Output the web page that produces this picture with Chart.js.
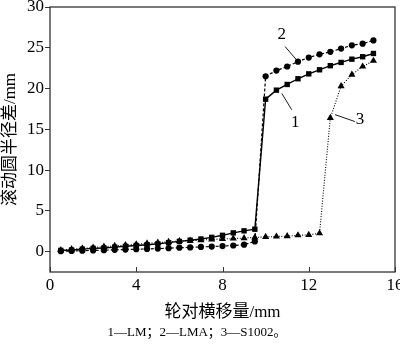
<!DOCTYPE html>
<html>
<head>
<meta charset="utf-8">
<script src="https://cdn.jsdelivr.net/npm/chart.js@4/dist/chart.umd.min.js"></script>
<style>
  html, body { margin: 0; padding: 0; background: #fff; }
  #wrap { width: 400px; height: 345px; }
</style>
</head>
<body>
<div id="wrap"><canvas id="chart"></canvas></div>
<script>
// 轮对横移量 (mm)
const xValues = [0.5, 1, 1.5, 2, 2.5, 3, 3.5, 4, 4.5, 5, 5.5, 6, 6.5, 7, 7.5, 8, 8.5, 9, 9.5,
                 10, 10.5, 11, 11.5, 12, 12.5, 13, 13.5, 14, 14.5, 15];
// 1 — LM
const lmValues = [0.15, 0.2, 0.3, 0.4, 0.45, 0.55, 0.65, 0.75, 0.85, 0.95, 1.1, 1.25, 1.4, 1.55, 1.75, 2.0, 2.3, 2.55, 2.75,
                  18.7, 19.8, 20.5, 21.2, 21.8, 22.3, 22.8, 23.2, 23.6, 23.9, 24.3];
// 2 — LMA
const lmaValues = [0.05, 0.08, 0.12, 0.15, 0.18, 0.22, 0.25, 0.3, 0.33, 0.37, 0.42, 0.48, 0.52, 0.58, 0.62, 0.68, 0.75, 0.85, 1.25,
                   21.5, 22.2, 22.7, 23.3, 23.8, 24.2, 24.5, 24.9, 25.3, 25.5, 25.9];
// 3 — S1002
const s1002Values = [0.2, 0.3, 0.4, 0.5, 0.6, 0.7, 0.8, 0.9, 1.0, 1.1, 1.2, 1.3, 1.35, 1.4, 1.5, 1.55, 1.6, 1.65, 1.75,
                     1.8, 1.85, 1.9, 2.0, 2.05, 2.25, 16.4, 20.3, 21.7, 22.7, 23.4];

const xTicks = [0, 4, 8, 12, 16];
const yTicks = [0, 5, 10, 15, 20, 25, 30];

// curve labels: text, text position, leader line (data units)
const curveLabels = [
  { text: '2', at: [10.75, 26.6], from: [10.9, 25.15], to: [11.44, 23.5] },
  { text: '1', at: [11.37, 15.8], from: [10.75, 19.4], to: [11.21, 17.4] },
  { text: '3', at: [14.38, 16.2], from: [13.22, 16.8], to: [14.14, 15.95] },
];

const serif = "'Liberation Serif', 'Noto Sans CJK SC', serif";
Chart.defaults.font.family = serif;
Chart.defaults.color = '#000';

const toPoints = ys => ys.map((y, i) => ({ x: xValues[i], y: y }));

const framePlugin = {
  id: 'frame',
  afterDraw(chart) {
    const { ctx, chartArea: a, scales } = chart;
    const x = scales.x, y = scales.y;
    ctx.save();
    ctx.strokeStyle = '#333';
    ctx.lineWidth = 1.3;
    ctx.strokeRect(a.left, a.top, a.right - a.left, a.bottom - a.top);

    // inward ticks on x axis
    ctx.lineWidth = 1;
    ctx.beginPath();
    xTicks.forEach(v => {
      const px = Math.round(x.getPixelForValue(v)) + 0.5;
      ctx.moveTo(px, a.bottom);
      ctx.lineTo(px, a.bottom - 5);
    });
    ctx.stroke();

    // curve number labels
    ctx.fillStyle = '#000';
    ctx.strokeStyle = '#000';
    ctx.lineWidth = 0.9;
    ctx.font = '17px ' + serif;
    ctx.textAlign = 'center';
    ctx.textBaseline = 'middle';
    curveLabels.forEach(l => {
      ctx.beginPath();
      ctx.moveTo(x.getPixelForValue(l.from[0]), y.getPixelForValue(l.from[1]));
      ctx.lineTo(x.getPixelForValue(l.to[0]), y.getPixelForValue(l.to[1]));
      ctx.stroke();
      ctx.fillText(l.text, x.getPixelForValue(l.at[0]), y.getPixelForValue(l.at[1]));
    });

    // axis titles and footnote
    const cx = (a.left + a.right) / 2;
    ctx.font = '17px ' + serif;
    ctx.fillText('轮对横移量/mm', cx, 313);
    ctx.font = '13px ' + serif;
    ctx.fillText('1—LM；2—LMA；3—S1002。', 197, 333);

    ctx.translate(11, (a.top + a.bottom) / 2);
    ctx.rotate(-Math.PI / 2);
    ctx.font = '17px ' + serif;
    ctx.fillText('滚动圆半径差/mm', 0, 0);
    ctx.restore();
  }
};

new Chart(document.getElementById('chart'), {
  type: 'line',
  data: {
    datasets: [
      {
        label: 'LM',
        data: toPoints(lmValues),
        borderColor: '#000',
        backgroundColor: '#000',
        borderWidth: 1.4,
        pointStyle: 'rect',
        pointRadius: 3.8,
        pointBorderWidth: 0,
      },
      {
        label: 'LMA',
        data: toPoints(lmaValues),
        borderColor: '#000',
        backgroundColor: '#000',
        borderWidth: 1.2,
        borderDash: [3, 2],
        pointStyle: 'circle',
        pointRadius: 3.1,
        pointBorderWidth: 0,
      },
      {
        label: 'S1002',
        data: toPoints(s1002Values),
        borderColor: '#000',
        backgroundColor: '#000',
        borderWidth: 1.1,
        borderDash: [1, 1.6],
        pointStyle: 'triangle',
        pointRadius: 4.1,
        pointBorderWidth: 0,
      },
    ],
  },
  options: {
    responsive: true,
    maintainAspectRatio: false,
    animation: false,
    events: [],
    layout: { padding: { top: 7, right: 5, left: 0, bottom: 0 } },
    plugins: {
      legend: { display: false },
      tooltip: { enabled: false },
    },
    scales: {
      x: {
        type: 'linear',
        min: 0,
        max: 16,
        afterBuildTicks: s => { s.ticks = xTicks.map(v => ({ value: v })); },
        afterFit: s => { s.height = 73; s.paddingLeft = 0; s.paddingRight = 0; },
        ticks: { font: { size: 17 }, color: '#000', padding: 3, maxRotation: 0 },
        grid: { display: false, drawTicks: false, tickLength: 0 },
        border: { display: false },
      },
      y: {
        min: -2.5,
        max: 30,
        afterBuildTicks: s => { s.ticks = yTicks.map(v => ({ value: v })); },
        afterFit: s => { s.width = 50; s.paddingTop = 0; s.paddingBottom = 0; },
        ticks: { font: { size: 17 }, color: '#000', padding: 1 },
        grid: { drawOnChartArea: false, drawTicks: true, tickLength: 5, color: '#333' },
        border: { display: false },
      },
    },
  },
  plugins: [framePlugin],
});
</script>
</body>
</html>
